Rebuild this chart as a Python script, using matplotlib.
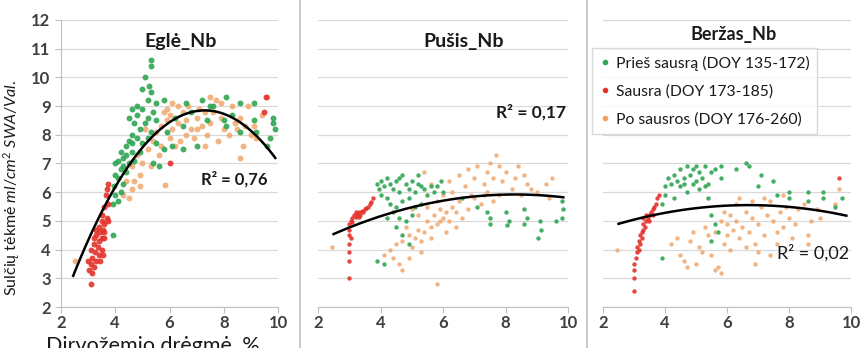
import numpy as np
import matplotlib
matplotlib.use('Agg')
from matplotlib import pyplot as plt
from matplotlib.lines import Line2D

plt.rcParams['font.family'] = ['Lato', 'DejaVu Sans']
plt.rcParams['mathtext.fontset'] = 'custom'
plt.rcParams['mathtext.rm'] = 'Lato'
plt.rcParams['mathtext.it'] = 'Lato:italic'

# --- duomenys (nuskaityti is paveikslo) ---
panel_titles = ['Eglė_Nb', 'Pušis_Nb', 'Beržas_Nb']
r2_labels = ['R² = 0,76', 'R² = 0,17', 'R² = 0,02']
legend_labels = ['Prieš sausrą (DOY 135-172)', 'Sausra (DOY 173-185)', 'Po sausros (DOY 176-260)']
x_ticks = [2, 4, 6, 8, 10]
y_ticks = [2, 3, 4, 5, 6, 7, 8, 9, 10, 11, 12]

# polinomo koeficientai (a, b, c) ir x intervalas trendo linijai
trend_coef = [(-0.245, 3.577, -4.206), (-0.041, 0.6806, 3.096), (-0.037, 0.4958, 3.889)]
trend_range = [(2.45, 9.9), (2.5, 9.85), (2.5, 9.85)]

egle_green = [(5.3, 10.6), (5.3, 10.4), (5.1, 10.0), (5.25, 9.7), (5.3, 9.5), (5.0, 9.6), (5.5, 9.1),
              (5.8, 9.2), (4.6, 8.9), (4.8, 8.7), (5.0, 8.9), (5.2, 8.6), (5.4, 8.8), (4.7, 8.4),
              (4.9, 8.2), (5.1, 8.4), (5.3, 8.1), (5.5, 8.5), (4.6, 8.0), (4.8, 7.9), (5.0, 7.7),
              (5.2, 7.9), (4.4, 7.6), (4.6, 7.4), (4.3, 7.2), (4.5, 7.0), (4.1, 7.1), (4.2, 6.8),
              (4.0, 7.0), (4.4, 6.7), (4.7, 7.1), (4.9, 7.4), (4.1, 6.5), (4.3, 6.3), (3.95, 6.2),
              (4.0, 5.9), (4.1, 5.7), (3.9, 5.6), (4.2, 6.0), (3.9, 4.5), (6.6, 9.1), (7.2, 9.2),
              (7.5, 9.0), (8.1, 9.3), (8.6, 9.1), (9.1, 9.1), (9.8, 8.6), (9.8, 8.4), (9.9, 8.2),
              (9.7, 7.9), (9.6, 7.6), (9.2, 8.1), (9.1, 8.5), (8.6, 8.1), (8.1, 8.3), (8.0, 8.5),
              (7.4, 8.5), (7.0, 7.6), (6.5, 7.5), (6.1, 7.6), (5.9, 8.1), (6.5, 8.3), (6.8, 8.8),
              (7.6, 9.0), (8.3, 8.7), (6.2, 8.6), (5.8, 7.5), (5.5, 7.7), (5.4, 7.0), (5.6, 6.9),
              (4.5, 8.6), (4.8, 9.0), (5.2, 9.2), (4.5, 7.8), (4.2, 7.4), (4.3, 6.9), (4.0, 6.6),
              (4.6, 7.7), (4.4, 7.3)]
egle_red = [(3.73, 6.3), (3.7, 6.1), (3.65, 5.9), (3.75, 5.6), (3.6, 5.5), (3.7, 5.1), (3.75, 5.0),
            (3.6, 4.9), (3.5, 5.0), (3.4, 4.8), (3.55, 4.7), (3.45, 4.6), (3.3, 4.5), (3.5, 4.4),
            (3.4, 4.3), (3.6, 4.4), (3.2, 4.2), (3.35, 4.1), (3.5, 4.0), (3.25, 3.9), (3.4, 3.8),
            (3.1, 4.0), (3.15, 3.7), (3.3, 3.6), (3.1, 3.5), (3.2, 3.4), (3.05, 3.3), (3.15, 3.2),
            (3.0, 3.6), (3.1, 2.8), (3.3, 4.7), (3.5, 5.2), (3.6, 4.6), (3.2, 4.4), (3.45, 3.6),
            (3.55, 3.8), (9.55, 9.3), (9.5, 8.8), (6.0, 7.0)]
egle_orange = [(4.5, 5.8), (4.6, 6.1), (4.4, 6.4), (4.7, 6.4), (4.9, 6.6), (5.0, 7.0), (4.8, 7.3),
               (5.2, 7.5), (5.4, 7.8), (5.5, 8.1), (5.7, 8.3), (5.9, 8.5), (6.0, 8.7), (6.1, 8.2),
               (6.3, 8.4), (6.5, 8.8), (6.6, 8.5), (6.8, 8.2), (7.0, 8.6), (7.1, 8.9), (7.2, 8.3),
               (7.4, 8.0), (7.5, 8.4), (7.6, 8.8), (7.7, 9.2), (7.9, 8.6), (8.0, 8.2), (8.2, 8.0),
               (8.4, 8.4), (8.6, 8.6), (8.7, 7.6), (8.6, 7.2), (8.8, 8.3), (9.0, 8.0), (9.2, 7.9),
               (9.4, 8.7), (9.6, 9.3), (6.2, 7.6), (6.4, 7.8), (5.6, 7.3), (5.3, 6.9), (4.9, 6.2),
               (5.8, 8.8), (6.7, 9.0), (7.3, 7.6), (7.8, 7.8), (6.9, 7.9), (8.3, 9.0), (5.1, 8.2),
               (4.6, 6.9), (4.3, 5.9), (5.7, 7.6), (6.0, 7.9), (6.6, 8.0), (7.0, 8.2), (7.9, 9.1),
               (8.5, 8.2), (9.1, 8.3), (5.9, 8.9), (6.3, 9.0), (7.5, 9.3), (8.9, 9.0), (6.1, 9.1),
               (7.3, 8.8), (2.5, 3.6), (5.85, 6.25)]

pusis_green = [(3.9, 6.3), (3.95, 6.1), (4.0, 6.4), (4.1, 6.2), (4.2, 6.5), (4.3, 6.3), (4.0, 5.9),
               (4.2, 5.8), (4.4, 6.1), (4.5, 6.4), (4.6, 6.0), (4.7, 6.6), (4.8, 6.3), (4.9, 6.1),
               (5.0, 6.4), (5.1, 6.0), (5.2, 6.3), (5.3, 6.2), (5.4, 6.1), (5.5, 5.9), (5.6, 6.2),
               (5.7, 6.0), (4.3, 5.6), (4.5, 5.5), (4.7, 5.7), (4.9, 5.8), (5.1, 5.5), (5.3, 5.6),
               (4.4, 5.3), (4.6, 5.1), (4.5, 4.8), (4.8, 5.0), (5.0, 5.2), (4.2, 5.1), (3.9, 3.6),
               (4.1, 3.5), (4.7, 4.5), (4.9, 4.2), (5.95, 6.4), (6.0, 6.0), (6.6, 5.8), (7.1, 5.5),
               (7.4, 5.3), (7.5, 5.1), (7.5, 4.9), (8.0, 5.3), (8.1, 5.0), (8.05, 4.85), (8.6, 5.4),
               (8.7, 5.1), (8.6, 4.9), (9.1, 5.0), (9.15, 4.7), (9.05, 4.4), (9.8, 5.7), (9.85, 5.4),
               (9.8, 5.1), (9.6, 5.0), (5.2, 6.6), (4.6, 6.5), (5.8, 6.2)]
pusis_red = [(3.0, 4.9), (3.05, 5.0), (3.1, 5.1), (3.15, 5.2), (3.2, 5.15), (3.25, 5.25), (3.3, 5.3),
             (3.35, 5.2), (3.4, 5.35), (3.45, 5.3), (3.5, 5.4), (3.55, 5.45), (3.6, 5.5), (3.65, 5.6),
             (3.7, 5.65), (3.75, 5.8), (3.1, 4.95), (3.2, 5.3), (3.3, 5.15), (3.0, 4.7), (3.0, 4.5),
             (3.0, 4.2), (3.0, 3.9), (3.0, 3.6), (3.0, 3.0), (3.05, 4.4)]
pusis_orange = [(4.1, 3.8), (4.3, 4.0), (4.4, 3.7), (4.6, 3.5), (4.7, 3.3), (4.5, 4.2), (4.7, 4.3),
                (4.9, 4.5), (5.0, 4.1), (5.1, 4.4), (5.2, 4.7), (5.3, 4.3), (5.4, 4.6), (5.5, 5.0),
                (5.6, 4.8), (5.7, 5.2), (5.8, 4.9), (5.9, 5.4), (6.0, 5.1), (6.1, 4.6), (6.2, 5.0),
                (6.3, 5.5), (6.4, 5.3), (6.5, 5.7), (6.6, 5.1), (6.8, 5.4), (7.0, 5.8), (7.2, 5.6),
                (7.4, 6.0), (7.6, 5.7), (5.5, 5.5), (5.8, 5.7), (6.0, 5.9), (6.2, 6.4), (6.3, 6.0),
                (6.5, 6.6), (6.7, 6.2), (6.8, 6.8), (7.0, 6.5), (7.1, 6.9), (7.3, 6.3), (7.4, 6.7),
                (7.5, 7.0), (7.6, 6.5), (7.7, 7.3), (7.8, 6.9), (7.9, 6.4), (8.0, 6.7), (8.2, 6.1),
                (8.3, 6.5), (8.4, 6.9), (8.6, 6.6), (8.7, 6.3), (8.8, 6.1), (9.0, 6.0), (9.3, 6.3),
                (9.5, 6.5), (9.4, 5.8), (5.4, 6.7), (5.6, 6.3), (5.9, 5.0), (6.1, 5.3), (5.2, 5.2),
                (4.8, 4.8), (5.0, 5.4), (6.9, 5.9), (7.3, 5.9), (8.5, 5.9), (7.8, 5.9), (6.4, 4.8),
                (5.6, 4.4), (5.3, 3.9), (4.9, 3.7), (2.45, 4.1), (5.8, 2.8)]

berzas_green = [(4.0, 6.2), (4.1, 6.5), (4.2, 6.3), (4.3, 6.6), (4.4, 6.4), (4.5, 6.8), (4.6, 6.5),
                (4.7, 6.9), (4.8, 6.6), (4.9, 6.8), (5.0, 6.4), (5.1, 6.7), (5.2, 6.5), (5.3, 6.9),
                (5.4, 6.3), (5.5, 6.7), (4.5, 6.2), (4.7, 6.0), (4.9, 6.3), (5.1, 6.1), (5.3, 6.2),
                (4.0, 5.9), (4.3, 5.8), (3.9, 5.6), (5.6, 6.8), (5.8, 6.5), (5.8, 6.9), (4.6, 6.3),
                (5.0, 6.9), (5.4, 5.8), (5.5, 5.2), (5.6, 4.9), (5.7, 4.6), (5.5, 4.3), (3.9, 3.7),
                (6.3, 6.8), (6.6, 7.0), (6.7, 6.9), (7.1, 6.6), (7.0, 6.2), (7.5, 6.4), (7.6, 5.9),
                (8.0, 6.0), (8.0, 5.8), (8.6, 6.0), (8.6, 5.7), (9.1, 6.0), (9.1, 5.8), (9.7, 5.8),
                (9.5, 5.5)]
berzas_red = [(3.0, 3.3), (3.0, 3.5), (3.05, 3.7), (3.1, 3.9), (3.1, 4.1), (3.15, 4.3), (3.2, 4.2),
              (3.2, 4.5), (3.25, 4.4), (3.3, 4.7), (3.3, 4.9), (3.35, 4.8), (3.4, 5.0), (3.45, 5.1),
              (3.5, 5.2), (3.5, 5.0), (3.55, 5.3), (3.6, 5.4), (3.6, 5.2), (3.65, 5.5), (3.7, 5.6),
              (3.75, 5.8), (3.8, 5.9), (3.4, 5.2), (3.3, 5.1), (3.0, 3.0), (3.0, 2.55), (3.15, 4.0),
              (3.25, 4.6), (9.6, 6.5)]
berzas_orange = [(4.2, 4.2), (4.4, 4.4), (4.5, 3.8), (4.6, 3.6), (4.7, 3.4), (4.8, 4.3), (4.9, 4.6),
                 (5.0, 3.5), (5.1, 4.1), (5.2, 3.9), (5.3, 4.8), (5.4, 4.5), (5.5, 3.8), (5.6, 3.3),
                 (5.7, 3.4), (5.8, 3.2), (5.9, 4.2), (6.0, 4.5), (6.0, 4.9), (6.1, 5.2), (6.2, 4.7),
                 (6.3, 5.0), (6.4, 4.4), (6.5, 4.8), (6.6, 5.3), (6.7, 4.6), (6.8, 5.1), (6.9, 4.2),
                 (7.0, 4.9), (7.1, 5.5), (7.2, 4.5), (7.3, 5.2), (7.4, 5.7), (7.5, 5.0), (7.6, 4.6),
                 (7.7, 5.3), (7.8, 4.8), (7.9, 5.5), (8.0, 5.1), (8.2, 4.9), (8.3, 5.4), (8.5, 5.6),
                 (8.6, 4.5), (8.6, 4.2), (8.7, 5.0), (9.0, 5.1), (9.5, 5.6), (9.6, 6.1), (6.3, 5.6),
                 (6.8, 5.7), (7.2, 5.8), (5.8, 5.0), (6.1, 4.0), (6.6, 4.1), (7.0, 3.9), (7.4, 3.8),
                 (6.9, 3.5), (7.6, 4.2), (8.1, 4.4), (6.4, 5.8), (5.6, 4.6), (5.9, 5.3), (7.8, 5.9),
                 (8.9, 5.4), (2.45, 4.0)]

groups = [(egle_green, egle_red, egle_orange),
          (pusis_green, pusis_red, pusis_orange),
          (berzas_green, berzas_red, berzas_orange)]

col_green = '#2fa552'
col_red = '#e4322b'
col_orange = '#f0a264'
txt_col = '#404040'

fig = plt.figure(figsize=(8.62, 3.48), dpi=100)
W, H = 862.0, 348.0
bottom = 1 - 307 / H
height = (307 - 20) / H
ax_px = [(61, 278), (318, 568), (603, 851)]
marker_size = [18, 10, 10]

axes = []
for i, (x0, x1) in enumerate(ax_px):
    ax = fig.add_axes([x0 / W, bottom, (x1 - x0) / W, height])
    axes.append(ax)
    ax.set_xlim(2, 10)
    ax.set_ylim(2, 12)
    ax.set_yticks(y_ticks)
    ax.set_xticks(x_ticks)
    ax.grid(axis='y', color='#d9d9d9', lw=0.9)
    ax.set_axisbelow(True)
    for s in ['top', 'right']:
        ax.spines[s].set_visible(False)
    ax.spines['bottom'].set_color('#bfbfbf')
    ax.spines['left'].set_color('#bfbfbf')
    ax.tick_params(colors='#bfbfbf', labelcolor=txt_col, length=4, width=0.8, labelsize=12)
    ax.tick_params(axis='x', pad=2)
    for lab in ax.get_xticklabels() + ax.get_yticklabels():
        lab.set_fontweight('bold')
    if i > 0:
        ax.spines['left'].set_visible(False)
        ax.tick_params(axis='y', left=False, labelleft=False)

    green, red, orange = groups[i]
    ms = marker_size[i]
    g = np.array(green)
    r = np.array(red)
    o = np.array(orange)
    ax.scatter(o[:, 0], o[:, 1], s=ms, color=col_orange, alpha=0.8, lw=0, zorder=2)
    ax.scatter(g[:, 0], g[:, 1], s=ms, color=col_green, alpha=0.9, lw=0, zorder=3)
    ax.scatter(r[:, 0], r[:, 1], s=ms, color=col_red, alpha=0.9, lw=0, zorder=3)

    xs = np.linspace(trend_range[i][0], trend_range[i][1], 100)
    ys = np.polyval(trend_coef[i], xs)
    ax.plot(xs, ys, color='black', lw=1.8, zorder=4)

title_x = [6.4, 6.65, 6.2]
title_y = [11.25, 11.25, 11.5]
title_fs = [14, 14, 13]
for i, ax in enumerate(axes):
    ax.text(title_x[i], title_y[i], panel_titles[i], ha='center', va='center', fontsize=title_fs[i],
            fontweight='bold', color='#1a1a1a')

axes[0].text(8.4, 6.45, r2_labels[0], ha='center', va='center', fontsize=12, fontweight='bold', color='#1a1a1a')
axes[1].text(9.95, 8.8, r2_labels[1], ha='right', va='center', fontsize=12.5, fontweight='bold', color='#1a1a1a')
axes[2].text(9.95, 3.9, r2_labels[2], ha='right', va='center', fontsize=13, color='#1a1a1a')

handles = [Line2D([], [], ls='', marker='o', ms=3, color=c) for c in (col_green, col_red, col_orange)]
fig.legend(handles, legend_labels, loc='upper left', bbox_to_anchor=(592 / W, 1 - 48 / H),
           fontsize=11.3, frameon=True, fancybox=False, edgecolor='#d0d0d0', handlelength=0.6,
           handletextpad=0.4, labelspacing=0.85, borderpad=0.5, borderaxespad=0, labelcolor='#1a1a1a')

fig.text(12 / W, 1 - 188 / H, r'Sulčių tėkmė $\mathit{ml/cm^2\ SWA/Val.}$', rotation=90,
         ha='center', va='center', fontsize=11.5, color='#1a1a1a')
fig.text(153 / W, 1 - 336 / H, 'Dirvožemio drėgmė, %', ha='center', va='top', fontsize=15.5, color='#1a1a1a')

for xp in (300, 587):
    fig.add_artist(Line2D([xp / W, xp / W], [0, 1], color='#bfbfbf', lw=1.2))

fig.savefig('out.png', dpi=100)
